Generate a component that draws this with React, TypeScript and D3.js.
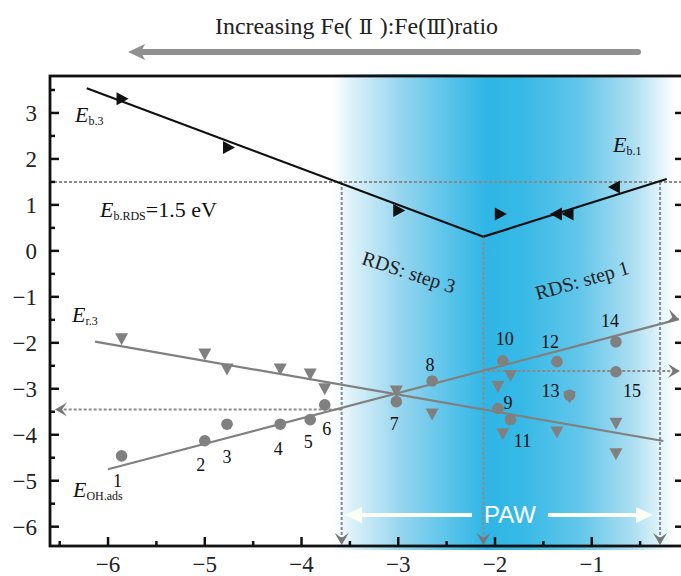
import React from "react";
import * as d3 from "d3";

// values
const xTicks = [-6, -5, -4, -3, -2, -1];
const yTicks = [3, 2, 1, 0, -1, -2, -3, -4, -5, -6];
const xMinor = [-6.5, -5.5, -4.5, -3.5, -2.5, -1.5, -0.5];
const yMinor = [3.5, 2.5, 1.5, 0.5, -0.5, -1.5, -2.5, -3.5, -4.5, -5.5];

// black E_b markers: direction r = right-pointing, l = left-pointing
const ebX = [-5.86, -4.76, -3.0, -1.95, -1.36, -1.24, -0.76];
const ebY = [3.31, 2.25, 0.88, 0.8, 0.8, 0.8, 1.39];
const ebDir = ["r", "r", "r", "r", "l", "l", "l"];

// E_r.3 gray down triangles
const er3X = [-5.86, -5.0, -4.77, -4.22, -3.91, -3.76, -3.02, -2.65, -1.97, -1.84, -1.92, -1.36, -1.23, -0.75, -0.75];
const er3Y = [-1.9, -2.23, -2.56, -2.56, -2.67, -2.99, -3.04, -3.54, -2.94, -2.7, -3.97, -3.93, -3.17, -3.74, -4.4];

// E_OH.ads gray circles, numbered 1..15
const ohLabels = ["1", "2", "3", "4", "5", "6", "7", "8", "9", "10", "11", "12", "13", "14", "15"];
const ohX = [-5.86, -5.0, -4.77, -4.22, -3.91, -3.76, -3.02, -2.65, -1.97, -1.92, -1.84, -1.36, -1.23, -0.75, -0.75];
const ohY = [-4.46, -4.13, -3.77, -3.77, -3.67, -3.35, -3.28, -2.83, -3.43, -2.39, -3.67, -2.41, -3.14, -1.98, -2.63];

// fitted lines [x, y]
const eb3Line: [number, number][] = [[-6.22, 3.537], [-2.12, 0.309]];
const eb1Line: [number, number][] = [[-2.12, 0.309], [-0.225, 1.564]];
const er3Fit: [number, number][] = [[-6.134, -1.975], [-0.26, -4.135]];
const ohFit: [number, number][] = [[-6.0, -4.75], [-0.098, -1.486]];

// guide lines
const rdsLevel = 1.5;
const guideX = [-3.585, -2.12, -0.294];
const guideTop = [1.5, 0.309, 1.5];
const leftGuideY = -3.45;
const rightGuideY = -2.615;

// label offsets (px) for the numbers next to circles
const numOffsets = [
  [-4, 31], [-4, 30], [0, 39], [-2, 31], [-2, 28], [2, 30], [-2, 28], [-2, -10],
  [10, 0], [2, -16], [12, 27], [-7, -14], [-19, 2], [-6, -15], [16, 25],
];

const W = 681;
const H = 576;
const L = 50, R = 684, T = 76, B = 546;
const serif = "'Liberation Serif', 'Times New Roman', serif";
const romanFont = "'DejaVu Serif', 'Liberation Serif', serif";
const gray = "#808080";

const x = d3.scaleLinear().domain([-6.6, -6.6 + (R - L) / 96.74]).range([L, R]);
const y = d3.scaleLinear().domain([-6.42, -6.42 + (B - T) / 45.97]).range([B, T]);

const line = d3.line<[number, number]>().x((d) => x(d[0])).y((d) => y(d[1]));

// chevron arrowhead with tip at (0,0) pointing in +y direction, rotated
const chevron = (tx: number, ty: number, rot: number, key: string) => (
  <path
    key={key}
    d="M0,0 L-7,-12 L0,-7 L7,-12 Z"
    transform={`translate(${tx},${ty}) rotate(${rot})`}
    fill="#777"
  />
);

const ELabel = ({ px, py, sub, rest, size = 22 }: { px: number; py: number; sub: string; rest?: string; size?: number }) => (
  <text x={px} y={py} fontFamily={serif} fontSize={size} fill="#111">
    <tspan fontStyle="italic">E</tspan>
    <tspan fontSize={12} dy={3}>{sub}</tspan>
    {rest ? <tspan dy={-3}>{rest}</tspan> : null}
  </text>
);

export default function App() {
  return (
    <svg
      width={W}
      height={H}
      style={{ position: "absolute", left: 0, top: 0, background: "#fff" }}
    >
      <defs>
        <linearGradient id="paw" x1="0" x2="1" y1="0" y2="0">
          <stop offset="0" stopColor="#ffffff" />
          <stop offset="0.06" stopColor="#d9f0f9" />
          <stop offset="0.2" stopColor="#95d5ee" />
          <stop offset="0.35" stopColor="#55c2ea" />
          <stop offset="0.45" stopColor="#2fb6e6" />
          <stop offset="0.55" stopColor="#36b9e6" />
          <stop offset="0.72" stopColor="#62c6ea" />
          <stop offset="0.88" stopColor="#aedff2" />
          <stop offset="1" stopColor="#ffffff" />
        </linearGradient>
      </defs>

      {/* title + arrow */}
      <text x={215} y={34} fontFamily={serif} fontSize={24} fill="#222" textLength={283} lengthAdjust="spacingAndGlyphs">
        Increasing Fe(
        <tspan fontFamily={romanFont} fontSize={21}> Ⅱ </tspan>
        ):Fe(
        <tspan fontFamily={romanFont} fontSize={21}>Ⅲ</tspan>
        )ratio
      </text>
      <line x1={638} y1={52} x2={140} y2={52} stroke="#909090" strokeWidth={6} strokeLinecap="round" />
      <path d="M128,52 L145,44 L141,52 L145,60 Z" fill="#909090" />

      {/* PAW band */}
      <rect x={333} y={T} width={342} height={B - T + 4} fill="url(#paw)" />
      <rect x={333} y={T - 2} width={152} height={2} fill="url(#paw)" opacity={0.8} />

      {/* dotted guides */}
      <g stroke="#8a8a8a" strokeWidth={2} strokeDasharray="3,2" fill="none">
        <line x1={L + 4} x2={W} y1={y(rdsLevel)} y2={y(rdsLevel)} />
        {guideX.map((gx, i) => (
          <line key={i} x1={x(gx)} x2={x(gx)} y1={y(guideTop[i])} y2={B - 6} />
        ))}
        <line x1={x(guideX[0])} x2={L + 8} y1={y(leftGuideY)} y2={y(leftGuideY)} />
        <line x1={x(-2.08)} x2={W - 6} y1={y(rightGuideY)} y2={y(rightGuideY)} />
      </g>
      {guideX.map((gx, i) => chevron(x(gx), B - 1, 0, "c" + i))}
      {chevron(L + 5, y(leftGuideY), 90, "cl")}
      {chevron(W - 1, y(rightGuideY), -90, "cr")}

      {/* fitted lines */}
      <path d={line(eb3Line) || ""} stroke="#111" strokeWidth={2.2} fill="none" />
      <path d={line(eb1Line) || ""} stroke="#111" strokeWidth={2.2} fill="none" />
      <path d={line(er3Fit) || ""} stroke={gray} strokeWidth={2.2} fill="none" />
      <path d={line(ohFit) || ""} stroke={gray} strokeWidth={2.2} fill="none" />
      {chevron(
        x(ohFit[1][0]),
        y(ohFit[1][1]),
        -90 + (Math.atan2(y(ohFit[0][1]) - y(ohFit[1][1]), x(ohFit[1][0]) - x(ohFit[0][0])) * 180) / Math.PI,
        "co"
      )}

      {/* markers */}
      {er3X.map((v, i) => (
        <path key={"t" + i} d="M-6.5,-5 L6.5,-5 L0,7 Z" transform={`translate(${x(v)},${y(er3Y[i])})`} fill={gray} />
      ))}
      {ohX.map((v, i) => (
        <circle key={"o" + i} cx={x(v)} cy={y(ohY[i])} r={5.8} fill={gray} />
      ))}
      {ebX.map((v, i) => (
        <path
          key={"b" + i}
          d={ebDir[i] === "r" ? "M-5,-6.5 L7,0 L-5,6.5 Z" : "M5,-6.5 L-7,0 L5,6.5 Z"}
          transform={`translate(${x(v)},${y(ebY[i])})`}
          fill="#111"
        />
      ))}
      {ohLabels.map((t, i) => (
        <text
          key={"n" + i}
          x={x(ohX[i]) + numOffsets[i][0]}
          y={y(ohY[i]) + numOffsets[i][1]}
          textAnchor="middle"
          fontFamily={serif}
          fontSize={18}
          fill="#111"
        >
          {t}
        </text>
      ))}

      {/* text labels */}
      <ELabel px={75} py={122} sub="b.3" />
      <ELabel px={100} py={217} sub="b.RDS" rest="=1.5 eV" />
      <ELabel px={613} py={152} sub="b.1" />
      <ELabel px={72} py={322} sub="r.3" />
      <ELabel px={73} py={497} sub="OH.ads" />
      <text x={409} y={279} textAnchor="middle" fontFamily={serif} fontSize={20} fill="#222" transform="rotate(18,409,272)">
        RDS: step 3
      </text>
      <text x={582} y={287} textAnchor="middle" fontFamily={serif} fontSize={20} fill="#222" transform="rotate(-16,582,280)">
        RDS: step 1
      </text>

      {/* PAW arrow */}
      <g stroke="#fbfff5" strokeWidth={4} fill="#fbfff5">
        <line x1={472} x2={358} y1={515} y2={515} />
        <line x1={548} x2={640} y1={515} y2={515} />
        <path d="M345,515 L362,507 L362,523 Z" stroke="none" />
        <path d="M653,515 L636,507 L636,523 Z" stroke="none" />
      </g>
      <text x={510} y={523} textAnchor="middle" fontFamily="'Liberation Sans', Arial, sans-serif" fontSize={24} fill="#fff">
        PAW
      </text>

      {/* frame and ticks */}
      <g stroke="#111" strokeWidth={2.5}>
        {xTicks.map((t) => (
          <line key={"xt" + t} x1={x(t)} x2={x(t)} y1={B} y2={B - 9} />
        ))}
        {xMinor.map((t) => (
          <line key={"xm" + t} x1={x(t)} x2={x(t)} y1={B} y2={B - 5} />
        ))}
        {yTicks.map((t) => (
          <line key={"yt" + t} x1={L} x2={L + 9} y1={y(t)} y2={y(t)} />
        ))}
        {yMinor.map((t) => (
          <line key={"ym" + t} x1={L} x2={L + 5} y1={y(t)} y2={y(t)} />
        ))}
        {yTicks.map((t) => (
          <line key={"yr" + t} x1={R} x2={R - 9} y1={y(t)} y2={y(t)} />
        ))}
      </g>
      <rect x={L} y={T} width={R - L} height={B - T} fill="none" stroke="#111" strokeWidth={2.8} />

      {xTicks.map((t) => (
        <text key={"xl" + t} x={x(t)} y={572} textAnchor="middle" fontFamily={serif} fontSize={23} fill="#222">
          {t < 0 ? "\u2212" + Math.abs(t) : t}
        </text>
      ))}
      {yTicks.map((t) => (
        <text key={"yl" + t} x={37} y={y(t) + 8} textAnchor="end" fontFamily={serif} fontSize={23} fill="#222">
          {t < 0 ? "\u2212" + Math.abs(t) : t}
        </text>
      ))}
    </svg>
  );
}
